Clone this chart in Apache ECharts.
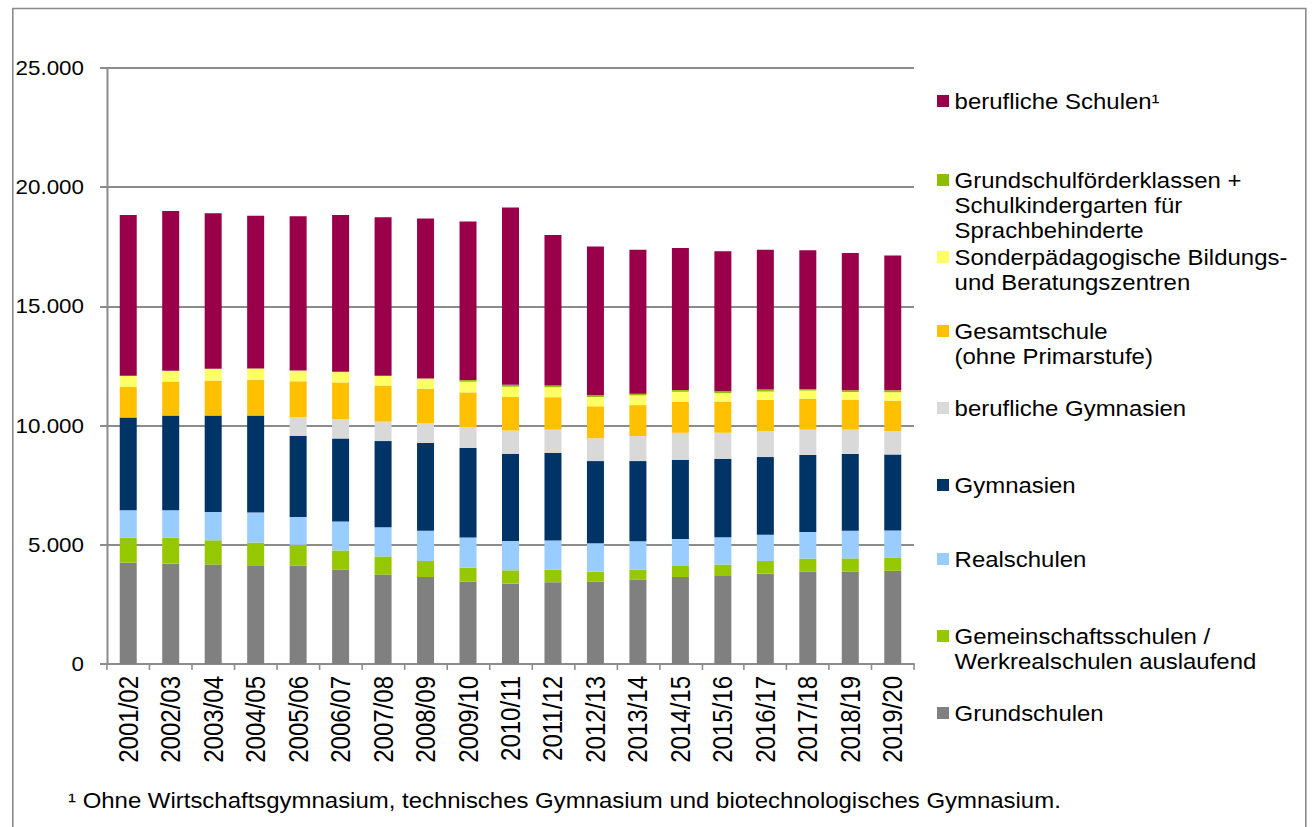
<!DOCTYPE html>
<html>
<head>
<meta charset="utf-8">
<script src="https://cdn.jsdelivr.net/npm/echarts@6/dist/echarts.min.js"></script>
<style>
html,body{margin:0;padding:0;background:#fff;overflow:hidden;}
#chart{width:1172px;height:827px;transform:scaleX(1.11945);transform-origin:0 0;}
</style>
</head>
<body>
<div id="chart"></div>
<script>
const categories = ['2001/02','2002/03','2003/04','2004/05','2005/06','2006/07','2007/08','2008/09','2009/10','2010/11','2011/12','2012/13','2013/14','2014/15','2015/16','2016/17','2017/18','2018/19','2019/20'];

const grundschulen      = [4250,4210,4170,4110,4120,3960,3750,3650,3450,3370,3430,3450,3540,3650,3690,3790,3870,3870,3910];
const gemeinschafts     = [1050,1090,1020,980,880,800,760,670,590,560,530,420,420,460,480,530,550,560,560];
const realschulen       = [1150,1150,1190,1260,1170,1220,1230,1270,1270,1230,1220,1200,1190,1130,1150,1100,1120,1160,1130];
const gymnasien         = [3890,3970,4040,4070,3400,3480,3610,3680,3750,3660,3680,3440,3360,3330,3290,3260,3230,3220,3190];
const beruflGymnasien   = [0,0,0,0,780,810,820,840,880,970,970,960,1050,1130,1090,1090,1060,1020,980];
const gesamtschule      = [1290,1430,1470,1500,1510,1540,1510,1440,1450,1410,1360,1340,1300,1300,1310,1310,1290,1260,1270];
const sonderpaed        = [460,450,490,480,450,450,410,430,450,430,420,390,410,420,350,350,350,320,360];
const grundschulfoerder = [0,0,0,0,0,0,0,0,70,80,70,70,70,70,80,80,70,70,80];
const beruflSchulen     = [6740,6700,6530,6400,6470,6570,6650,6710,6650,7440,6320,6240,6040,5960,5870,5870,5820,5760,5650];

const yTicks = [0,5000,10000,15000,20000,25000];

const seriesDefs = [
  {name:'Grundschulen', data:grundschulen, color:'#808080', lines:['Grundschulen'], cy:713},
  {name:'Gemeinschaftsschulen / Werkrealschulen auslaufend', data:gemeinschafts, color:'#96C800', lines:['Gemeinschaftsschulen /','Werkrealschulen auslaufend'], cy:636},
  {name:'Realschulen', data:realschulen, color:'#99CCFF', lines:['Realschulen'], cy:559},
  {name:'Gymnasien', data:gymnasien, color:'#003366', lines:['Gymnasien'], cy:485},
  {name:'berufliche Gymnasien', data:beruflGymnasien, color:'#D9D9D9', lines:['berufliche Gymnasien'], cy:408},
  {name:'Gesamtschule (ohne Primarstufe)', data:gesamtschule, color:'#FFC000', lines:['Gesamtschule','(ohne Primarstufe)'], cy:331},
  {name:'Sonderpädagogische Bildungs- und Beratungszentren', data:sonderpaed, color:'#FFFF66', lines:['Sonderpädagogische Bildungs-','und Beratungszentren'], cy:257},
  {name:'Grundschulförderklassen + Schulkindergarten für Sprachbehinderte', data:grundschulfoerder, color:'#8DBE00', lines:['Grundschulförderklassen +','Schulkindergarten für','Sprachbehinderte'], cy:180},
  {name:'berufliche Schulen¹', data:beruflSchulen, color:'#990049', lines:['berufliche Schulen¹'], cy:101}
];

const SX = 1.11945;           // horizontal stretch of the whole chart (matches wide text of the reference)
const X = v => v / SX;        // convert a screen x-distance into the chart's own units
const FONT = '"Liberation Sans", Arial, Helvetica, sans-serif';
const FS = 21.4;
const LH = 25;

const fmt = v => String(v).replace(/\B(?=(\d{3})+(?!\d))/g, '.');

const legends = seriesDefs.map(s => {
  const n = s.lines.length;
  const txt = new Array(n - 1).fill('').concat(s.lines).join('\n');
  const total = 2 * n - 1;
  return {
    show: true,
    orient: 'vertical',
    left: X(937),
    top: s.cy - total * LH / 2,
    itemWidth: X(12),
    itemHeight: 12,
    padding: 0,
    selectedMode: false,
    icon: 'rect',
    data: [s.name],
    formatter: () => txt,
    textStyle: {fontFamily: FONT, fontSize: FS, color: '#000', lineHeight: LH}
  };
});

const chart = echarts.init(document.getElementById('chart'), null, {renderer: 'svg'});
chart.setOption({
  backgroundColor: '#fff',
  animation: false,
  title: {
    text: '¹ Ohne Wirtschaftsgymnasium, technisches Gymnasium und biotechnologisches Gymnasium.',
    left: X(68), top: 790, padding: 0,
    textStyle: {fontFamily: FONT, fontSize: FS, fontWeight: 'normal', color: '#000'}
  },
  graphic: [{
    type: 'rect', left: X(10), top: 6, silent: true,
    shape: {width: X(1293), height: 840},
    style: {fill: 'none', stroke: '#8a8a8a', lineWidth: 1.4}
  }],
  legend: legends,
  grid: {left: X(107), right: 1172 - X(914), top: 68, bottom: 163, containLabel: false},
  xAxis: {
    type: 'category',
    data: categories,
    boundaryGap: true,
    axisLine: {show: true, lineStyle: {color: '#8c8c8c', width: 2}},
    axisTick: {show: true, alignWithLabel: false, length: 6, lineStyle: {color: '#8c8c8c', width: 1.4}},
    axisLabel: {rotate: 90, margin: 12, fontFamily: FONT, fontSize: 24, color: '#000', interval: 0}
  },
  yAxis: {
    type: 'value',
    min: yTicks[0], max: yTicks[yTicks.length - 1], interval: 5000,
    axisLine: {show: true, lineStyle: {color: '#8c8c8c', width: 1.8}},
    axisTick: {show: true, length: X(7), lineStyle: {color: '#8c8c8c', width: 2}},
    splitLine: {show: true, lineStyle: {color: '#8c8c8c', width: 2}},
    axisLabel: {margin: X(23), fontFamily: FONT, fontSize: 20, color: '#000', formatter: v => fmt(v)}
  },
  series: seriesDefs.map(s => ({
    name: s.name,
    type: 'bar',
    stack: 'total',
    barWidth: X(17),
    data: s.data,
    itemStyle: {color: s.color},
    emphasis: {disabled: true}
  }))
});
</script>
</body>
</html>
